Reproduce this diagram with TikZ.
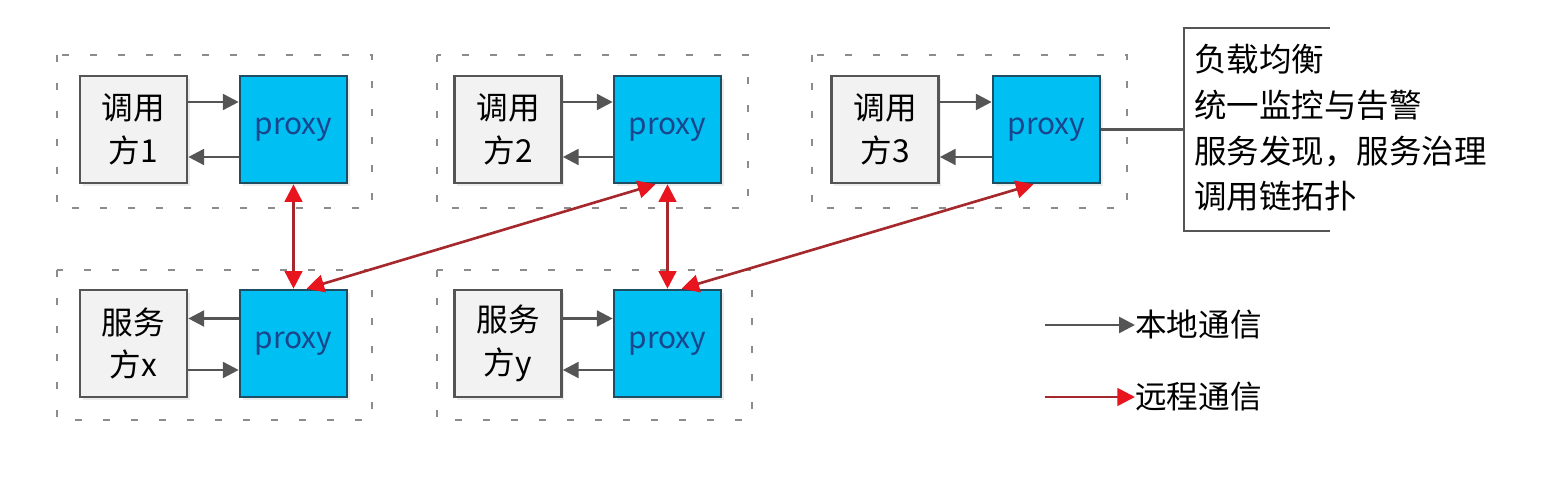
\documentclass[tikz,border=0pt]{standalone}
\usepackage{fontspec}
\setmainfont{Noto Sans CJK SC}
\usetikzlibrary{arrows.meta,positioning,shadows}
\definecolor{proxyblue}{RGB}{0,191,243}
\definecolor{proxyline}{RGB}{30,78,100}
\definecolor{proxytext}{RGB}{25,70,140}
\definecolor{callfill}{RGB}{242,242,242}
\definecolor{linegray}{RGB}{85,85,85}
\definecolor{remotered}{RGB}{165,40,45}
\definecolor{tipred}{RGB}{232,20,30}
\tikzset{
  caller/.style={draw=linegray, fill=callfill, line width=1.5pt, minimum width=2.14cm,
    minimum height=2.14cm, inner sep=0pt, align=center,
    font=\fontsize{18}{24.4}\selectfont,
    drop shadow={shadow xshift=1.5pt, shadow yshift=-1.5pt, opacity=0.15}},
  proxy/.style={draw=proxyline, fill=proxyblue, line width=1.5pt, minimum width=2.14cm,
    minimum height=2.14cm, inner sep=0pt, text=proxytext,
    font=\fontsize{17}{20}\selectfont,
    drop shadow={shadow xshift=1.5pt, shadow yshift=-1.5pt, opacity=0.15}},
  grpbox/.style={draw=gray!90, line width=1.5pt, dash pattern=on 0.14cm off 0.42cm},
  local/.style={draw=linegray, line width=1.5pt, -{Triangle[length=9pt,width=9pt]}},
  remote/.style={draw=remotered, line width=1.5pt,
    {Triangle[length=10pt,width=10pt,color=tipred]}-{Triangle[length=10pt,width=10pt,color=tipred]}},
  remoteone/.style={draw=remotered, line width=1.5pt, -{Triangle[length=10pt,width=10pt,color=tipred]}},
  legtext/.style={anchor=west, inner sep=0pt, font=\fontsize{18}{20}\selectfont}
}
\begin{document}
\begin{tikzpicture}[x=0.02cm,y=-0.02cm]
  \useasboundingbox (0,0) rectangle (1556,492);
  %Groups
  \draw[grpbox] (57,55) rectangle (372,208);
  \draw[grpbox] (437,55) rectangle (748,208);
  \draw[grpbox] (812,55) rectangle (1127,208);
  \draw[grpbox] (57,270) rectangle (372,420);
  \draw[grpbox] (437,270) rectangle (752,420);
  %Boxes
  \node[caller] (c1) at (133.5,129.5) {调用\\方1};
  \node[proxy] (p1) at (293.5,129.5) {proxy};
  \node[caller] (c2) at (508,129.5) {调用\\方2};
  \node[proxy] (p2) at (667.5,129.5) {proxy};
  \node[caller] (c3) at (885,129.5) {调用\\方3};
  \node[proxy] (p3) at (1046.5,129.5) {proxy};
  \node[caller] (cx) at (133.5,343.5) {服务\\方x};
  \node[proxy] (px) at (293.5,343.5) {proxy};
  \node[caller] (cy) at (508,343.5) {服务\\方y};
  \node[proxy] (py) at (667.5,343.5) {proxy};
  %Local arrows
  \draw[local] ([yshift=0.55cm]c1.east) -- ([yshift=0.55cm]p1.west);
  \draw[local] ([yshift=-0.55cm]p1.west) -- ([yshift=-0.55cm]c1.east);
  \draw[local] ([yshift=0.55cm]c2.east) -- ([yshift=0.55cm]p2.west);
  \draw[local] ([yshift=-0.55cm]p2.west) -- ([yshift=-0.55cm]c2.east);
  \draw[local] ([yshift=0.55cm]c3.east) -- ([yshift=0.55cm]p3.west);
  \draw[local] ([yshift=-0.55cm]p3.west) -- ([yshift=-0.55cm]c3.east);
  \draw[local] ([yshift=0.5cm]px.west) -- ([yshift=0.5cm]cx.east);
  \draw[local] ([yshift=-0.53cm]cx.east) -- ([yshift=-0.53cm]px.west);
  \draw[local] ([yshift=0.5cm]cy.east) -- ([yshift=0.5cm]py.west);
  \draw[local] ([yshift=-0.53cm]py.west) -- ([yshift=-0.53cm]cy.east);
  %Remote arrows
  \draw[remote] (p1.south) -- (px.north);
  \draw[remote] ([xshift=0.26cm]px.north) -- ([xshift=-0.24cm]p2.south);
  \draw[remote] (p2.south) -- (py.north);
  \draw[remote] ([xshift=0.28cm]py.north) -- ([xshift=-0.26cm]p3.south);
  %Features
  \coordinate (fl) at (1184,129.5);
  \draw[linegray, line width=1.5pt] (1330,28) -- (1184,28) -- (1184,231) -- (1330,231);
  \draw[linegray, line width=1.5pt] (p3.east) -- (fl);
  \node[anchor=north west, inner sep=0pt, align=left, font=\fontsize{18.5}{26}\selectfont]
    (feat) at (1194,44) {负载均衡\\统一监控与告警\\服务发现，服务治理\\调用链拓扑};
  %Legend
  \coordinate (l1) at (1045,325);
  \coordinate (l2) at (1045,397);
  \node[legtext] (lt1) at (1135,325) {本地通信};
  \node[legtext] (lt2) at (1135,397) {远程通信};
  \draw[local] (l1) -- (lt1.west);
  \draw[remoteone] (l2) -- (lt2.west);
\end{tikzpicture}
\end{document}
